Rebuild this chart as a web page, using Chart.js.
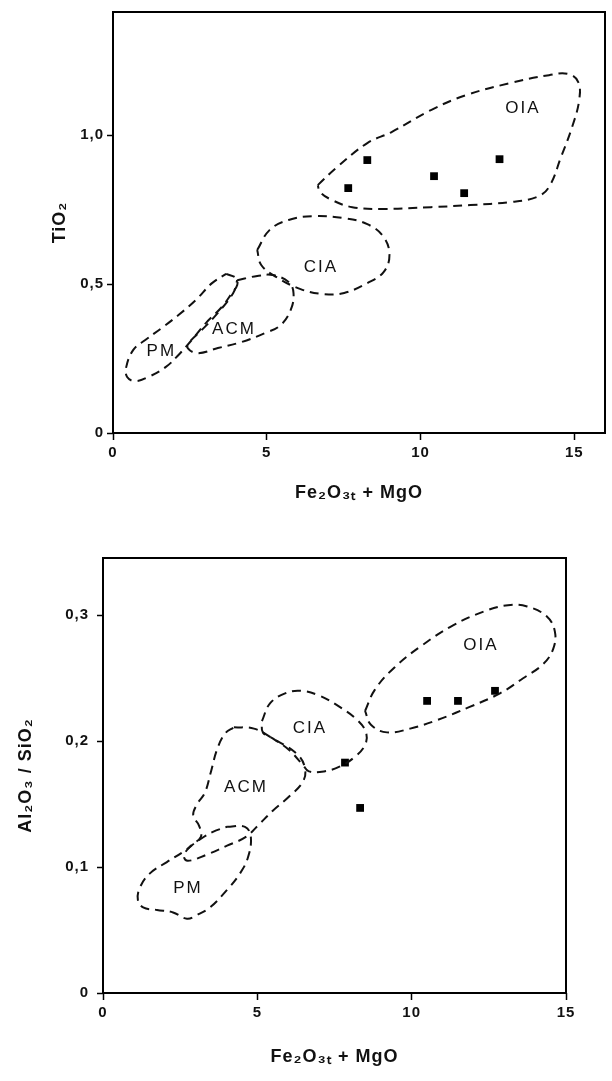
<!DOCTYPE html>
<html>
<head>
<meta charset="utf-8">
<script src="https://cdn.jsdelivr.net/npm/chart.js@4.4.1/dist/chart.umd.min.js"></script>
<style>
    html, body { margin: 0; padding: 0; background: #ffffff; }
    canvas { position: absolute; left: 0; }
    #tiChart { top: 0; }
    #alChart { top: 520px; }
</style>
</head>
<body>
<canvas id="tiChart" width="612" height="520"></canvas>
<canvas id="alChart" width="612" height="561"></canvas>
<script>
// ---- upper diagram: TiO2 vs Fe2O3t + MgO ----
const topSampleX = [7.65, 8.27, 10.44, 11.42, 12.57];
const topSampleY = [0.822, 0.916, 0.862, 0.805, 0.919];

const topOIA = [[6.66,0.832],[7.25,0.889],[8.27,0.973],[9.06,1.010],[10.34,1.084],[11.48,1.134],[12.90,1.174],[14.18,1.201],[14.80,1.205],[15.13,1.178],[15.16,1.117],[14.93,1.027],[14.57,0.926],[14.18,0.826],[13.78,0.792],[12.90,0.775],[11.62,0.765],[10.34,0.758],[8.80,0.752],[7.78,0.758],[7.12,0.782],[6.73,0.809]];
const topCIA = [[4.69,0.614],[5.09,0.681],[5.71,0.715],[6.50,0.728],[7.52,0.721],[8.27,0.701],[8.80,0.658],[8.99,0.597],[8.80,0.540],[8.27,0.503],[7.52,0.470],[6.86,0.466],[6.10,0.483],[5.32,0.523],[4.82,0.564]];
const topACM = [[4.04,0.513],[4.69,0.527],[5.19,0.530],[5.71,0.507],[5.87,0.470],[5.78,0.413],[5.45,0.362],[4.96,0.336],[4.17,0.305],[3.41,0.285],[2.76,0.268],[2.43,0.285],[2.49,0.305],[2.89,0.346],[3.41,0.403],[3.91,0.470]];
const topPM = [[3.68,0.534],[4.00,0.520],[4.04,0.497],[3.87,0.470],[3.54,0.423],[3.02,0.369],[2.56,0.312],[2.13,0.262],[1.71,0.221],[1.15,0.188],[0.72,0.174],[0.46,0.188],[0.43,0.221],[0.66,0.279],[1.05,0.312],[1.58,0.352],[2.13,0.396],[2.69,0.446],[3.22,0.503]];

const topLabelNames = ['OIA', 'CIA', 'ACM', 'PM'];
const topLabelX = [13.3, 6.73, 3.9, 1.54];
const topLabelY = [1.09, 0.557, 0.349, 0.274];

const topXTicks = [0, 5, 10, 15];
const topYTicks = [0, 0.5, 1.0];
const topYTickLabels = ['0', '0,5', '1,0'];

// ---- lower diagram: Al2O3/SiO2 vs Fe2O3t + MgO ----
const botSampleX = [7.84, 8.33, 10.50, 11.50, 12.70];
const botSampleY = [0.183, 0.147, 0.232, 0.232, 0.240];

const botOIA = [[8.49,0.224],[8.81,0.241],[9.46,0.259],[10.33,0.276],[11.34,0.292],[12.34,0.303],[13.12,0.308],[13.74,0.307],[14.38,0.299],[14.64,0.287],[14.58,0.273],[14.25,0.261],[13.61,0.250],[12.86,0.238],[11.86,0.227],[10.85,0.217],[9.95,0.210],[9.20,0.207],[8.68,0.213]];
const botCIA = [[5.15,0.216],[5.41,0.230],[5.90,0.238],[6.41,0.240],[7.03,0.236],[7.68,0.227],[8.23,0.217],[8.52,0.207],[8.49,0.197],[8.13,0.187],[7.68,0.180],[7.16,0.176],[6.67,0.176],[6.48,0.181],[6.03,0.193],[5.51,0.202],[5.18,0.207]];
const botACM = [[4.24,0.211],[4.89,0.210],[5.51,0.202],[6.28,0.190],[6.54,0.179],[6.48,0.168],[6.03,0.156],[5.51,0.145],[5.02,0.133],[4.63,0.124],[4.02,0.117],[3.37,0.110],[2.75,0.105],[2.62,0.109],[2.85,0.117],[3.17,0.124],[3.11,0.133],[2.92,0.141],[3.05,0.150],[3.30,0.159],[3.50,0.176],[3.69,0.193],[3.95,0.206]];
const botPM = [[4.02,0.132],[4.60,0.132],[4.79,0.124],[4.70,0.108],[4.44,0.095],[4.02,0.082],[3.47,0.068],[3.05,0.062],[2.72,0.059],[2.27,0.064],[1.75,0.066],[1.30,0.068],[1.13,0.074],[1.20,0.084],[1.52,0.095],[2.07,0.104],[2.59,0.112],[3.14,0.122],[3.56,0.128]];

const botLabelNames = ['OIA', 'CIA', 'ACM', 'PM'];
const botLabelX = [12.21, 6.67, 4.60, 2.72];
const botLabelY = [0.276, 0.210, 0.163, 0.083];

const botXTicks = [0, 5, 10, 15];
const botYTicks = [0, 0.1, 0.2, 0.3];
const botYTickLabels = ['0', '0,1', '0,2', '0,3'];

const xTitle = 'Fe\u2082O\u2083\u209C + MgO';

Chart.defaults.font.family = '"Liberation Sans", Arial, sans-serif';
Chart.defaults.color = '#111111';

// closed dashed outline from [x, y] pairs
function regionDataset(pairs) {
    const pts = pairs.map(p => ({ x: p[0], y: p[1] }));
    pts.push({ x: pairs[0][0], y: pairs[0][1] });
    return {
        data: pts,
        showLine: true,
        borderColor: '#111111',
        borderWidth: 2,
        borderDash: [9, 6],
        tension: 0.4,
        pointRadius: 0,
        fill: false
    };
}

function sampleDataset(xs, ys) {
    return {
        data: xs.map((v, i) => ({ x: v, y: ys[i] })),
        showLine: false,
        pointStyle: 'rect',
        pointRadius: 5.5,
        backgroundColor: '#000000',
        borderColor: '#000000',
        borderWidth: 0
    };
}

// box around the plot area, and a little spacing for the lettering
const framePlugin = {
    id: 'frame',
    beforeDraw(chart) {
        chart.ctx.letterSpacing = '1px';
    },
    afterDraw(chart) {
        const { ctx, chartArea: a } = chart;
        ctx.save();
        ctx.strokeStyle = '#000000';
        ctx.lineWidth = 2;
        ctx.strokeRect(a.left, a.top, a.right - a.left, a.bottom - a.top);
        ctx.restore();
        ctx.letterSpacing = '0px';
    }
};

// field names written inside the outlines
const regionLabelPlugin = {
    id: 'regionLabels',
    afterDatasetsDraw(chart, args, opts) {
        const { ctx, scales } = chart;
        ctx.save();
        ctx.font = '17px "Liberation Sans", Arial, sans-serif';
        ctx.letterSpacing = '2px';
        ctx.fillStyle = '#111111';
        ctx.textAlign = 'center';
        ctx.textBaseline = 'middle';
        opts.names.forEach((name, i) => {
            ctx.fillText(name, scales.x.getPixelForValue(opts.xs[i]) + 1, scales.y.getPixelForValue(opts.ys[i]));
        });
        ctx.restore();
    }
};

function makeChart(id, cfg) {
    const ctx = document.getElementById(id).getContext('2d');
    return new Chart(ctx, {
        type: 'scatter',
        data: { datasets: cfg.datasets },
        options: {
            responsive: false,
            animation: false,
            layout: { padding: cfg.padding },
            scales: {
                x: {
                    type: 'linear',
                    min: 0,
                    max: cfg.xMax,
                    afterBuildTicks: axis => { axis.ticks = cfg.xTicks.map(v => ({ value: v })); },
                    afterFit: axis => { axis.height = cfg.xHeight; },
                    grid: { drawOnChartArea: false, drawTicks: true, tickLength: 7, tickColor: '#000000', tickWidth: 1.5 },
                    border: { display: false },
                    ticks: { font: { size: 15, weight: 'bold' }, padding: 4, maxRotation: 0, callback: v => String(v) },
                    title: { display: true, text: xTitle, font: { size: 18, weight: 'bold' }, padding: { top: 0, bottom: cfg.xTitlePad } }
                },
                y: {
                    type: 'linear',
                    min: 0,
                    max: cfg.yMax,
                    afterBuildTicks: axis => { axis.ticks = cfg.yTicks.map(v => ({ value: v })); },
                    afterFit: axis => { axis.width = cfg.yWidth; },
                    grid: { drawOnChartArea: false, drawTicks: true, tickLength: 6, tickColor: '#000000', tickWidth: 1.5 },
                    border: { display: false },
                    ticks: {
                        font: { size: 15, weight: 'bold' },
                        padding: cfg.yTickPad,
                        callback: v => cfg.yTickLabels[cfg.yTicks.indexOf(v)] ?? ''
                    },
                    title: { display: true, text: cfg.yTitle, font: { size: 18, weight: 'bold' }, padding: { top: cfg.yTitlePad, bottom: 0 } }
                }
            },
            plugins: {
                legend: { display: false },
                tooltip: { enabled: false },
                regionLabels: { names: cfg.labelNames, xs: cfg.labelX, ys: cfg.labelY }
            }
        },
        plugins: [framePlugin, regionLabelPlugin]
    });
}

document.addEventListener('DOMContentLoaded', function() {
    makeChart('tiChart', {
        datasets: [
            regionDataset(topOIA), regionDataset(topCIA), regionDataset(topACM), regionDataset(topPM),
            sampleDataset(topSampleX, topSampleY)
        ],
        padding: { left: 0, right: 7, top: 12, bottom: 0 },
        xMax: 16, yMax: 1.413,
        xTicks: topXTicks, yTicks: topYTicks, yTickLabels: topYTickLabels,
        xHeight: 87, yWidth: 113, yTickPad: 3,
        xTitlePad: 16, yTitle: 'TiO\u2082', yTitlePad: 49,
        labelNames: topLabelNames, labelX: topLabelX, labelY: topLabelY
    });

    makeChart('alChart', {
        datasets: [
            regionDataset(botOIA), regionDataset(botCIA), regionDataset(botACM), regionDataset(botPM),
            sampleDataset(botSampleX, botSampleY)
        ],
        padding: { left: 0, right: 46, top: 38, bottom: 0 },
        xMax: 15, yMax: 0.3455,
        xTicks: botXTicks, yTicks: botYTicks, yTickLabels: botYTickLabels,
        xHeight: 88, yWidth: 103, yTickPad: 8,
        xTitlePad: 13, yTitle: 'Al\u2082O\u2083 / SiO\u2082', yTitlePad: 15,
        labelNames: botLabelNames, labelX: botLabelX, labelY: botLabelY
    });
});
</script>
</body>
</html>
